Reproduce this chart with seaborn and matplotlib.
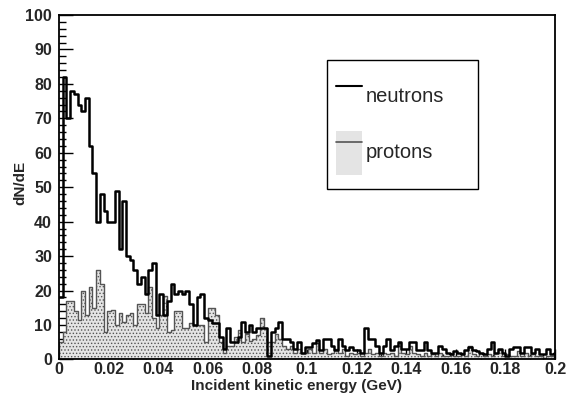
import numpy as np
import pandas as pd
import matplotlib
matplotlib.use("Agg")
import matplotlib.pyplot as plt
from matplotlib.lines import Line2D
from matplotlib.patches import Patch, Rectangle
from matplotlib.legend_handler import HandlerTuple, HandlerPatch
from matplotlib.ticker import MultipleLocator, FuncFormatter
import seaborn as sns

# histogram binning (GeV)
E_MIN, E_MAX, BIN_WIDTH = 0.0, 0.2, 0.0015

# dN/dE per bin
neutrons = [
    18, 82, 70, 78, 77, 74, 72, 76, 62, 54,
    40, 48, 43, 40, 40, 49, 32, 46, 30, 29,
    26, 22, 24, 19, 26, 28, 13, 19, 13, 17,
    22, 19, 20, 19, 20, 16, 10, 18, 19, 12,
    11.5, 10.5, 10.5, 6.5, 3, 9, 5, 5, 6.5, 11,
    8, 10, 8, 9, 9, 9, 1, 8, 9, 11,
    6, 6, 5, 3, 5, 2, 3.7, 3.7, 4.8, 5.7,
    2.8, 6, 6, 4, 2.8, 6, 4, 2.8, 3.7, 2.8,
    2.8, 2, 9, 6, 6, 4, 2, 4, 6, 2.8,
    4, 5, 3, 3, 5, 5, 2.8, 2.8, 5, 2.8,
    2, 2, 4, 3, 2, 1.5, 2.5, 2, 1.5, 2.8,
    3.5, 2.8, 2.5, 2, 1.5, 3, 5, 2, 3, 2,
    1, 3, 3.7, 3.7, 2, 3.7, 3.7, 2, 3, 1.5,
    1.5, 3, 1.5, 2,
]
protons = [
    5, 8, 17, 17, 14, 11.5, 20, 13, 21, 15,
    26, 22, 8, 14, 14.5, 10, 13.5, 11, 13, 13.5,
    10, 16, 16, 13.5, 21, 12, 9, 13, 18.5, 8,
    8.5, 14, 14, 9, 9, 10.5, 10, 10, 10, 5,
    15, 15, 13, 5, 2, 4, 4, 6.5, 8.5, 5,
    7.5, 5.5, 6, 7, 12, 9, 5, 5, 7.5, 6,
    4, 3, 4, 2, 3, 2, 2, 3, 2, 4.8,
    2, 3, 1.5, 2, 3, 2, 3, 1, 2, 1.5,
    2, 1, 2, 3, 1.5, 2, 1, 2, 1.5, 2,
    1, 4.8, 2, 1.5, 3.8, 2, 1.5, 1, 2, 1,
    1.5, 1, 2, 1, 1, 1.5, 1, 1, 2, 1,
    3.8, 1.5, 1, 2, 1, 1.5, 1, 2, 2.8, 1,
    1.5, 1, 1, 2.5, 1, 2, 1, 1.5, 1, 1,
    0.5, 1, 1, 0.5,
]
series_labels = ["neutrons", "protons"]
x_title = "Incident kinetic energy (GeV)"
y_title = "dN/dE"

edges = np.append(np.arange(E_MIN, E_MAX, BIN_WIDTH), E_MAX)
centers = 0.5 * (edges[:-1] + edges[1:])
df = pd.DataFrame({"E": centers, "neutrons": neutrons, "protons": protons})
bin_edges = edges.tolist()

sns.set_theme(style="white")
plt.rcParams["font.family"] = ["Liberation Sans", "DejaVu Sans"]
plt.rcParams["hatch.color"] = "#8c8c8c"
plt.rcParams["hatch.linewidth"] = 0.6

PROTON_FACE = "#e4e4e4"
PROTON_EDGE = "#555555"
PROTON_HATCH = "....."

fig = plt.figure(figsize=(5.69, 3.99), dpi=100)
ax = fig.add_axes([0.1037, 0.099, 0.8717, 0.8634])

# protons: filled stipple, neutrons: thick black outline on top
sns.histplot(data=df, x="E", weights="protons", bins=bin_edges, element="step",
             fill=True, facecolor=PROTON_FACE, edgecolor=PROTON_EDGE,
             linewidth=1.0, alpha=1, hatch=PROTON_HATCH, ax=ax)
sns.histplot(data=df, x="E", weights="neutrons", bins=bin_edges, element="step",
             fill=False, color="black", linewidth=1.8, ax=ax)

ax.set_xlim(E_MIN, E_MAX)
ax.set_ylim(0, 100)

ax.xaxis.set_major_locator(MultipleLocator(0.02))
ax.xaxis.set_minor_locator(MultipleLocator(0.005))
ax.yaxis.set_major_locator(MultipleLocator(10))
ax.yaxis.set_minor_locator(MultipleLocator(2))
ax.xaxis.set_major_formatter(FuncFormatter(lambda v, _: f"{v:g}"))

ax.tick_params(which="both", direction="in", bottom=True, left=True,
               top=False, right=False, color="black", width=1.0)
ax.tick_params(axis="y", which="major", length=10, pad=5)
ax.tick_params(axis="y", which="minor", length=5)
ax.tick_params(axis="x", which="major", length=7, pad=2)
ax.tick_params(axis="x", which="minor", length=3.5)
for lab in ax.get_xticklabels() + ax.get_yticklabels():
    lab.set_fontsize(11.5)
    lab.set_fontweight("bold")

for sp in ax.spines.values():
    sp.set_color("black")
    sp.set_linewidth(1.3)

ax.set_xlabel(x_title, fontsize=11, fontweight="bold")
ax.set_ylabel(y_title, fontsize=11, fontweight="bold")
ax.xaxis.set_label_coords(0.478, -0.056)
ax.yaxis.set_label_coords(-0.064, 0.512)


def short_box(legend, orig_handle, xdescent, ydescent, width, height, fontsize):
    # fill box a bit shorter than the row, like the ROOT legend entry
    return Rectangle((-xdescent, -ydescent + 0.1 * height), width, 0.8 * height,
                     facecolor=PROTON_FACE, edgecolor="none", hatch=PROTON_HATCH)


# legend like the ROOT TLegend box
h_n = Line2D([], [], color="black", lw=1.5)
h_p = (Patch(facecolor=PROTON_FACE, hatch=PROTON_HATCH, edgecolor="none"),
       Line2D([], [], color=PROTON_EDGE, lw=1.2))
leg = ax.legend([h_n, h_p], series_labels,
                handler_map={tuple: HandlerTuple(ndivide=1, pad=0),
                             Patch: HandlerPatch(patch_func=short_box)},
                loc="upper left", bbox_to_anchor=(0.540, 0.512, 0.305, 0.357),
                mode="expand", fontsize=14.5, handlelength=1.3,
                handleheight=3.78, labelspacing=0.1, borderpad=0.45,
                handletextpad=0.2, fancybox=False, framealpha=1,
                borderaxespad=0)
leg.get_frame().set_edgecolor("black")
leg.get_frame().set_linewidth(1.0)

fig.savefig("out.png", dpi=100)
